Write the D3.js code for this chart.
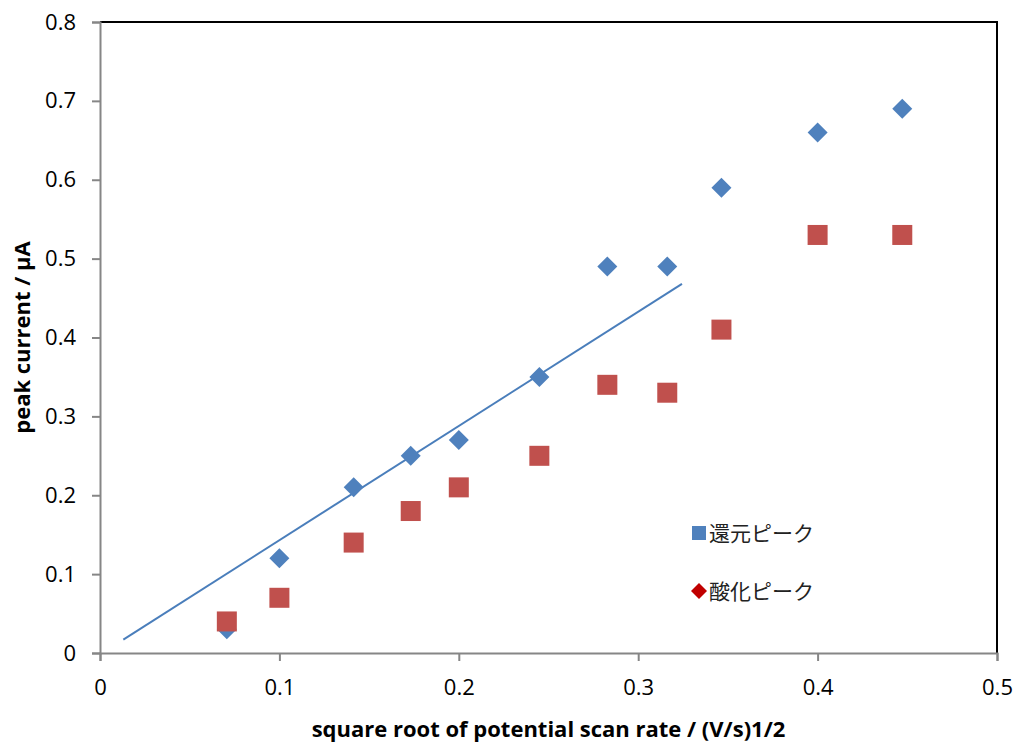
<!DOCTYPE html>
<html>
<head>
<meta charset="utf-8">
<script src="https://cdn.jsdelivr.net/npm/d3@7"></script>
<style>
  body { margin: 0; background: #fff; }
  text { font-family: "Open Sans", sans-serif; }
</style>
</head>
<body>
<div id="chart"></div>
<script>
// square root of scan rate
var xValues = [0.0707, 0.1, 0.1414, 0.1732, 0.2, 0.2449, 0.2828, 0.3162, 0.3464, 0.4, 0.4472];
var reduction = [0.03, 0.12, 0.21, 0.25, 0.27, 0.35, 0.49, 0.49, 0.59, 0.66, 0.69];
var oxidation = [0.04, 0.07, 0.14, 0.18, 0.21, 0.25, 0.34, 0.33, 0.41, 0.53, 0.53];
var trendX = [0.013, 0.3244];
var trendY = [0.017, 0.468];
var xTicks = [0, 0.1, 0.2, 0.3, 0.4, 0.5];
var yTicks = [0, 0.1, 0.2, 0.3, 0.4, 0.5, 0.6, 0.7, 0.8];
var seriesNames = ["還元ピーク", "酸化ピーク"];

var W = 1019, H = 747;
var margin = {left: 100, top: 22, right: 22, bottom: 94};

var blue = "#4F81BD", red = "#C0504D", axisGray = "#868686";

var x = d3.scaleLinear().domain([0, 0.5]).range([margin.left, W - margin.right]);
var y = d3.scaleLinear().domain([0, 0.8]).range([H - margin.bottom, margin.top]);

var svg = d3.select("#chart").append("svg")
  .attr("width", W)
  .attr("height", H);

// plot area border (top/right black)
svg.append("path")
  .attr("d", "M" + x(0) + "," + y(0.8) + "H" + x(0.5) + "V" + y(0))
  .attr("fill", "none")
  .attr("stroke", "#000")
  .attr("stroke-width", 2);

var fmt = function(d) { return d === 0 ? "0" : d3.format(".1f")(d); };

// axes
var xAxis = svg.append("g")
  .attr("transform", "translate(0," + y(0) + ")")
  .call(d3.axisBottom(x).tickValues(xTicks).tickSize(8).tickPadding(18).tickFormat(fmt));
var yAxis = svg.append("g")
  .attr("transform", "translate(" + x(0) + ",0)")
  .call(d3.axisLeft(y).tickValues(yTicks).tickSize(8).tickPadding(16).tickFormat(fmt));

[xAxis, yAxis].forEach(function(a) {
  a.select(".domain").attr("stroke", axisGray).attr("stroke-width", 2);
  a.selectAll(".tick line").attr("stroke", axisGray).attr("stroke-width", 2);
  a.selectAll(".tick text")
    .attr("fill", "#000")
    .style("font-size", "22px")
    .style("font-family", "'Open Sans', sans-serif");
});

// axis titles
svg.append("text")
  .attr("x", (x(0) + x(0.5)) / 2)
  .attr("y", 737)
  .attr("text-anchor", "middle")
  .style("font-size", "22px")
  .style("font-weight", "bold")
  .text("square root of potential scan rate / (V/s)1/2");

svg.append("text")
  .attr("transform", "translate(30," + (y(0.4)) + ") rotate(-90)")
  .attr("text-anchor", "middle")
  .style("font-size", "22px")
  .style("font-weight", "bold")
  .text("peak current / μA");

// trend line
svg.append("line")
  .attr("x1", x(trendX[0])).attr("y1", y(trendY[0]))
  .attr("x2", x(trendX[1])).attr("y2", y(trendY[1]))
  .attr("stroke", "#4A7EBB")
  .attr("stroke-width", 2);

// reduction (diamonds)
svg.selectAll("path.red-pt")
  .data(xValues)
  .enter().append("path")
  .attr("class", "red-pt")
  .attr("d", function(d, i) {
    var cx = x(d), cy = y(reduction[i]), r = 10;
    return "M" + cx + "," + (cy - r) + "L" + (cx + r) + "," + cy + "L" + cx + "," + (cy + r) + "L" + (cx - r) + "," + cy + "Z";
  })
  .attr("fill", blue);

// oxidation (squares)
svg.selectAll("rect.ox-pt")
  .data(xValues)
  .enter().append("rect")
  .attr("class", "ox-pt")
  .attr("x", function(d) { return x(d) - 10; })
  .attr("y", function(d, i) { return y(oxidation[i]) - 10; })
  .attr("width", 20)
  .attr("height", 20)
  .attr("fill", red);

// legend (markers as in the original)
var legend = svg.append("g");
legend.append("rect")
  .attr("x", 692).attr("y", 526).attr("width", 14).attr("height", 14)
  .attr("fill", blue);
legend.append("path")
  .attr("d", "M699,583L707,591L699,599L691,591Z")
  .attr("fill", "#C00000");
legend.selectAll("text")
  .data(seriesNames)
  .enter().append("text")
  .attr("x", 709)
  .attr("y", function(d, i) { return 541 + i * 58; })
  .style("font-family", "'Noto Sans CJK JP', sans-serif")
  .style("font-size", "21px")
  .attr("fill", "#222")
  .text(function(d) { return d; });
</script>
</body>
</html>
